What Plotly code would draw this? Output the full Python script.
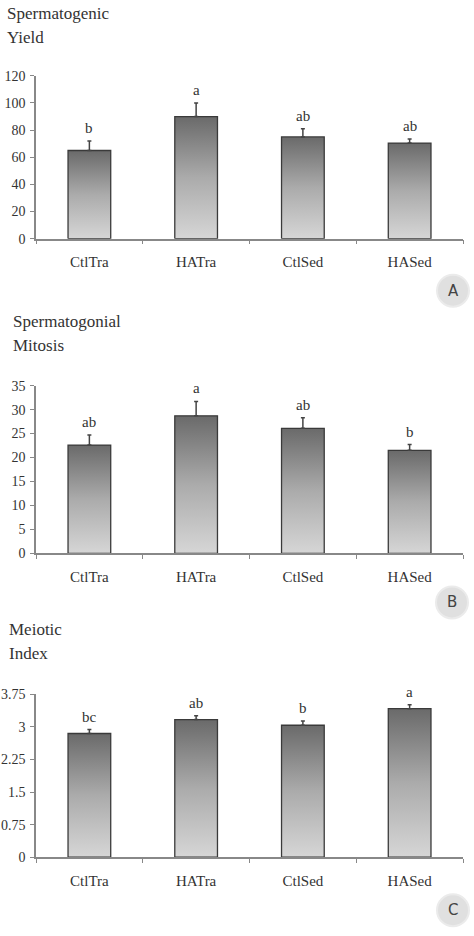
import plotly.graph_objects as go

categories = ["CtlTra", "HATra", "CtlSed", "HASed"]

yield_values = [65.0, 90.0, 75.0, 70.5]
yield_err = [7.0, 10.0, 6.0, 3.0]
yield_letters = ["b", "a", "ab", "ab"]
yield_ticks = [0, 20, 40, 60, 80, 100, 120]

mitosis_values = [22.6, 28.7, 26.1, 21.5]
mitosis_err = [2.1, 3.0, 2.2, 1.2]
mitosis_letters = ["ab", "a", "ab", "b"]
mitosis_ticks = [0, 5, 10, 15, 20, 25, 30, 35]

meiotic_values = [2.85, 3.17, 3.04, 3.42]
meiotic_err = [0.09, 0.09, 0.10, 0.09]
meiotic_letters = ["bc", "ab", "b", "a"]
meiotic_ticks = [0, 0.75, 1.5, 2.25, 3, 3.75]
meiotic_ticktext = ["0", "0.75", "1.5", "2.25", "3", "3.75"]

panels = [
    dict(values=yield_values, err=yield_err, letters=yield_letters, ticks=yield_ticks,
         ticktext=[str(t) for t in yield_ticks], title=["Spermatogenic", "Yield"], label="A"),
    dict(values=mitosis_values, err=mitosis_err, letters=mitosis_letters, ticks=mitosis_ticks,
         ticktext=[str(t) for t in mitosis_ticks], title=["Spermatogonial", "Mitosis"], label="B"),
    dict(values=meiotic_values, err=meiotic_err, letters=meiotic_letters, ticks=meiotic_ticks,
         ticktext=meiotic_ticktext, title=["Meiotic", "Index"], label="C"),
]

W, H = 474, 936
BAR_W = 0.4
FONT = "Liberation Serif, Times New Roman, serif"
# vertical calibration between layout pixels and the captured picture
VS, VO = 0.9847, 6.1


def px(x):
    return x / W


def py(y):
    return 1 - ((y - VO) / VS) / H


# target pixel layout (top, bottom of plot area) per panel
px_plot = [(75, 238), (385, 553), (694, 857)]
px_title = [(7, 13, 37), (13, 321, 345), (9, 629, 653)]
px_circle = [(453, 290), (452, 602), (453, 910)]
x_dom = [px(36), px(463)]

fig = go.Figure()
layout = dict(
    width=W, height=H, margin=dict(l=0, r=0, t=0, b=0),
    paper_bgcolor="white", plot_bgcolor="white", showlegend=False,
    font=dict(family=FONT, size=13, color="#333333"),
)
annotations = []
shapes = []

for k, p in enumerate(panels):
    top, bot = px_plot[k]
    ydom = [py(bot), py(top)]
    base = 2 * k + 1       # numeric hidden x axis (gradient fills)
    over = 2 * k + 2       # category x axis (bars, ticks, labels)
    yid = k + 1
    xb = "x" if base == 1 else f"x{base}"
    xo = f"x{over}"
    yn = "y" if yid == 1 else f"y{yid}"
    ymax = p["ticks"][-1]

    layout["xaxis" if base == 1 else f"xaxis{base}"] = dict(
        domain=x_dom, range=[-0.5, 3.5], showgrid=False, zeroline=False,
        showticklabels=False, showline=False, ticks="", anchor=yn)
    layout[f"xaxis{over}"] = dict(
        overlaying=xb, anchor=yn, type="category", tickson="boundaries",
        ticks="outside", ticklen=4, tickcolor="#888888", showline=True,
        linecolor="#888888", linewidth=1.5, showgrid=False, zeroline=False,
        tickfont=dict(family=FONT, size=15, color="#333333"),
        ticklabelstandoff=9, range=[-0.5, 3.5])
    layout["yaxis" if yid == 1 else f"yaxis{yid}"] = dict(
        domain=ydom, anchor=xb, range=[0, ymax], tickvals=p["ticks"],
        ticktext=p["ticktext"], ticks="outside", ticklen=4, tickcolor="#888888",
        showline=True, linecolor="#888888", linewidth=1.5, showgrid=False,
        zeroline=False, tickfont=dict(family=FONT, size=14, color="#333333"),
        ticklabelstandoff=2)

    # gradient bar bodies (one per bar so each gets its own top-to-bottom gradient)
    for i, v in enumerate(p["values"]):
        fig.add_trace(go.Scatter(
            x=[i - BAR_W / 2, i + BAR_W / 2, i + BAR_W / 2, i - BAR_W / 2, i - BAR_W / 2],
            y=[0, 0, v, v, 0], mode="lines", fill="toself",
            fillgradient=dict(type="vertical",
                              colorscale=[[0, "#d6d6d6"], [0.5, "#ababab"], [1, "#6a6a6a"]]),
            line=dict(color="#3a3a3a", width=1.3), hoverinfo="skip",
            xaxis=xb, yaxis=yn))

    # bar trace on category axis: carries error bars
    fig.add_trace(go.Bar(
        x=categories, y=p["values"], width=BAR_W,
        marker=dict(color="rgba(0,0,0,0)", line=dict(width=0)),
        error_y=dict(type="data", symmetric=False, array=p["err"],
                     arrayminus=[0] * 4, color="#444444", thickness=1.5, width=2),
        xaxis=xo, yaxis=yn))

    # significance letters
    for i, (v, e, L) in enumerate(zip(p["values"], p["err"], p["letters"])):
        annotations.append(dict(
            x=i, y=v + e, xref=xb, yref=yn, text=L, showarrow=False,
            yanchor="bottom", yshift=3, font=dict(family=FONT, size=15, color="#333333")))

    # panel titles
    tx, ty1, ty2 = px_title[k]
    for line, ty in zip(p["title"], (ty1, ty2)):
        annotations.append(dict(
            x=px(tx), y=py(ty), xref="paper", yref="paper", text=line,
            showarrow=False, xanchor="left", yanchor="middle", xshift=-2,
            font=dict(family=FONT, size=17, color="#333333")))

    # panel label circle
    cx, cy = px_circle[k]
    r = 16
    shapes.append(dict(type="circle", xref="paper", yref="paper",
                       x0=px(cx - r), x1=px(cx + r),
                       y0=py(cy + r), y1=py(cy - r),
                       fillcolor="#e0e0e0", line=dict(color="#ebebeb", width=2),
                       layer="below"))
    annotations.append(dict(x=px(cx), y=py(cy), xref="paper", yref="paper",
                            text=p["label"], showarrow=False, xanchor="center",
                            yanchor="middle",
                            font=dict(family="DejaVu Sans, sans-serif", size=15,
                                      color="#444444")))

layout["annotations"] = annotations
layout["shapes"] = shapes
fig.update_layout(**layout)
fig.write_html("out.html", config={"displayModeBar": False},
               post_script="document.body.style.margin='0';document.body.style.overflow='hidden';")
